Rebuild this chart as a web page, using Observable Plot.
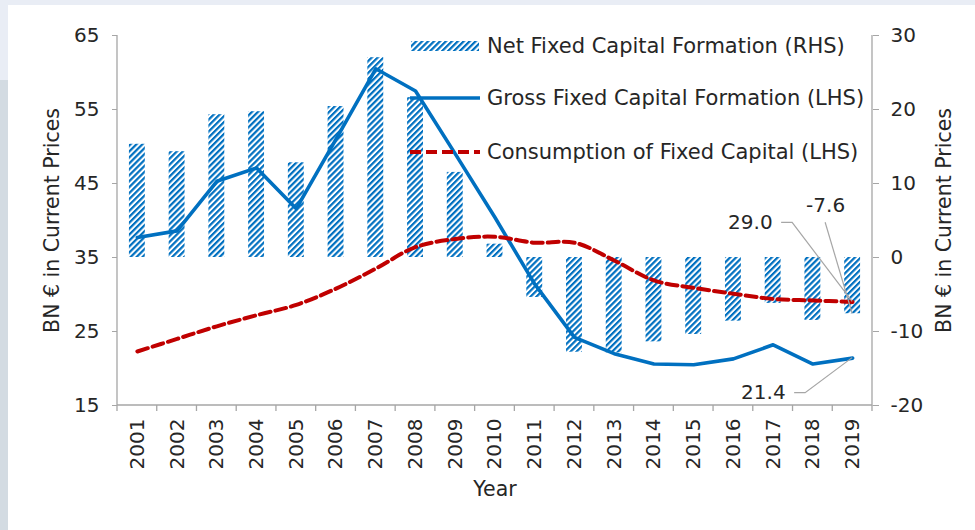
<!DOCTYPE html>
<html>
<head>
<meta charset="utf-8">
<script src="https://cdn.jsdelivr.net/npm/d3@7"></script>
<script src="https://cdn.jsdelivr.net/npm/@observablehq/plot@0.6"></script>
<style>
  body { margin: 0; background: #fff; }
  #wrap { position: relative; width: 975px; height: 530px; overflow: hidden; background: #fff; font-family: "DejaVu Sans", sans-serif; color: #262626; }
  #chart { position: absolute; left: 0; top: 0; }
  .band { position: absolute; }
  .legend-row { position: absolute; left: 410px; height: 24px; display: flex; align-items: center; white-space: nowrap; font-size: 21px; }
  .legend-row svg { width: 70px; height: 12px; margin-right: 7px; flex: none; }
</style>
</head>
<body>
<div id="wrap">
  <div id="chart"></div>
  <div class="band" style="left:0;top:0;width:975px;height:5px;background:#e9edf5"></div>
  <div class="band" style="left:0;top:0;width:8px;height:80px;background:#e9edf5"></div>
  <div class="band" style="left:0;top:80px;width:8px;height:450px;background:#d3dbe2"></div>
  <div id="legend"></div>
</div>
<script>
// ---- data ----
const years = ["2001","2002","2003","2004","2005","2006","2007","2008","2009","2010",
               "2011","2012","2013","2014","2015","2016","2017","2018","2019"];
// Net Fixed Capital Formation (RHS, BN €)
const netFixed = [15.3, 14.3, 19.3, 19.7, 12.8, 20.4, 27.0, 21.6, 11.5, 1.8,
                  -5.4, -12.8, -12.9, -11.4, -10.4, -8.6, -6.2, -8.5, -7.6];
// Gross Fixed Capital Formation (LHS, BN €)
const gross = [37.7, 38.6, 45.3, 47.1, 41.6, 51.0, 60.5, 57.5, 49.0, 40.4,
               31.4, 24.2, 22.0, 20.6, 20.5, 21.3, 23.2, 20.6, 21.4];
// Consumption of Fixed Capital (LHS, BN €)
const consumption = [22.3, 24.0, 25.7, 27.2, 28.6, 30.8, 33.5, 36.4, 37.5, 37.8,
                     37.0, 37.0, 34.6, 31.9, 30.9, 30.1, 29.4, 29.2, 29.0];
const leftTicks = [15, 25, 35, 45, 55, 65];
const rhsShift = 35; // RHS 0 sits at LHS 35 (both axes span 50 units)
const seriesNames = ["Net Fixed Capital Formation (RHS)",
                     "Gross Fixed Capital Formation (LHS)",
                     "Consumption of Fixed Capital (LHS)"];
const yTitle = "BN € in Current Prices";
const xTitle = "Year";

const BLUE = "#0070c0", RED = "#c00000", GRAY = "#a6a6a6", TXT = "#262626";
const rows = years.map((year, i) => ({year, net: netFixed[i], gross: gross[i], cons: consumption[i]}));
const last = rows[rows.length - 1];
const annots = [
  {year: last.year, y: last.cons, label: last.cons.toFixed(1), anchor: "end", dx: -80, dy: -79, path: [[-71, -79], [-60, -79], [0, 0]]},
  {year: last.year, y: last.net + rhsShift, label: last.net.toFixed(1), anchor: "middle", dx: -27, dy: -108, path: [[-27, -91], [0, 0]]},
  {year: last.year, y: last.gross, label: last.gross.toFixed(1), anchor: "end", dx: -67, dy: 34, path: [[-58, 35], [-47, 35], [0, 0]]}
];

const HP = 4.2, HS = 2.2; // hatch period / stripe width
const defs = () => {
  const g = d3.create("svg:g");
  const p = g.append("defs").append("pattern")
    .attr("id", "hatch").attr("patternUnits", "userSpaceOnUse")
    .attr("width", HP).attr("height", HP).attr("patternTransform", "rotate(45)");
  p.append("rect").attr("width", HP).attr("height", HP).attr("fill", "#fff");
  p.append("rect").attr("width", HS).attr("height", HP).attr("fill", BLUE);
  return g.node();
};

const decorations = (index, scales, values, dims) => {
  const g = d3.create("svg:g").attr("fill", "none");
  const x = scales.x, y = scales.y;
  const bw = x.bandwidth ? x.bandwidth() : 0;
  const step = x.step ? x.step() : bw;
  const cx = v => x(v) + bw / 2;
  const x0 = dims.marginLeft, x1 = dims.width - dims.marginRight;
  const yT = y(d3.max(leftTicks)), yB = y(d3.min(leftTicks));
  g.append("path").attr("stroke", GRAY).attr("stroke-width", 1.3)
    .attr("d", `M${x0},${yT}V${yB}H${x1}V${yT}`);
  const bounds = years.map(v => cx(v) - step / 2).concat([cx(years[years.length - 1]) + step / 2]);
  g.append("path").attr("stroke", GRAY).attr("stroke-width", 1.3)
    .attr("d", bounds.map(b => `M${b},${yB}v6`).join(""));
  for (const a of annots) {
    const px = cx(a.year), py = y(a.y);
    g.append("path").attr("stroke", GRAY).attr("stroke-width", 1.2)
      .attr("d", "M" + a.path.map(([dx, dy]) => `${px + dx},${py + dy}`).join("L"));
  }
  return g.node();
};

const annotText = a => Plot.text([a], {x: "year", y: "y", text: "label", dx: a.dx, dy: a.dy, textAnchor: a.anchor, fontSize: 20, fill: TXT});

const chart = Plot.plot({
  width: 975,
  height: 530,
  marginLeft: 117,
  marginRight: 103,
  marginTop: 35,
  marginBottom: 125,
  style: {fontFamily: "DejaVu Sans, sans-serif", fontSize: "20px", color: TXT, background: "transparent"},
  x: {type: "band", domain: years, paddingInner: 0.6, paddingOuter: 0.3, round: false, axis: null},
  y: {domain: [15, 65], axis: null},
  marks: [
    defs,
    Plot.barY(rows, {x: "year", y1: () => rhsShift, y2: d => d.net + rhsShift, fill: "url(#hatch)"}),
    Plot.line(rows, {x: "year", y: "gross", stroke: BLUE, strokeWidth: 3.6, strokeLinejoin: "round"}),
    Plot.line(rows, {x: "year", y: "cons", stroke: RED, strokeWidth: 4, strokeDasharray: "11,5", curve: "catmull-rom"}),
    Plot.axisY({anchor: "left", ticks: leftTicks, tickSize: 5, tickPadding: 13, fontSize: 20, label: null, stroke: GRAY, fill: TXT}),
    Plot.axisY({anchor: "right", ticks: leftTicks, tickFormat: d => d - rhsShift, tickSize: 6, tickPadding: 12, fontSize: 20, label: null, stroke: GRAY, fill: TXT}),
    Plot.axisX({tickSize: 0, tickRotate: -90, tickPadding: 13, fontSize: 20, label: null, fill: TXT}),
    decorations,
    ...annots.map(annotText),
    Plot.text([yTitle], {frameAnchor: "left", rotate: -90, dx: -65, textAnchor: "middle", fontSize: 20.5, fill: TXT}),
    Plot.text([yTitle], {frameAnchor: "right", rotate: -90, dx: 72, textAnchor: "middle", fontSize: 20.5, fill: TXT}),
    Plot.text([xTitle], {frameAnchor: "bottom", dy: 90, fontSize: 20.5, fill: TXT})
  ]
});
document.getElementById("chart").appendChild(chart);

// ---- legend (inside the plot area, top right) ----
const swatches = [
  `<svg viewBox="0 0 70 12"><defs><pattern id="hatchL" patternUnits="userSpaceOnUse" width="${HP}" height="${HP}" patternTransform="rotate(45)"><rect width="${HP}" height="${HP}" fill="#fff"/><rect width="${HS}" height="${HP}" fill="${BLUE}"/></pattern></defs><rect x="1" y="1" width="68" height="10" fill="url(#hatchL)"/></svg>`,
  `<svg viewBox="0 0 70 12"><line x1="0" x2="70" y1="6" y2="6" stroke="${BLUE}" stroke-width="3.6"/></svg>`,
  `<svg viewBox="0 0 70 12"><line x1="0" x2="70" y1="6" y2="6" stroke="${RED}" stroke-width="4" stroke-dasharray="11,5"/></svg>`
];
const rowTops = [34, 86, 140];
const legend = document.getElementById("legend");
seriesNames.forEach((name, i) => {
  const row = document.createElement("div");
  row.className = "legend-row";
  row.style.top = rowTops[i] + "px";
  row.innerHTML = swatches[i] + `<span>${name}</span>`;
  legend.appendChild(row);
});
</script>
</body>
</html>
